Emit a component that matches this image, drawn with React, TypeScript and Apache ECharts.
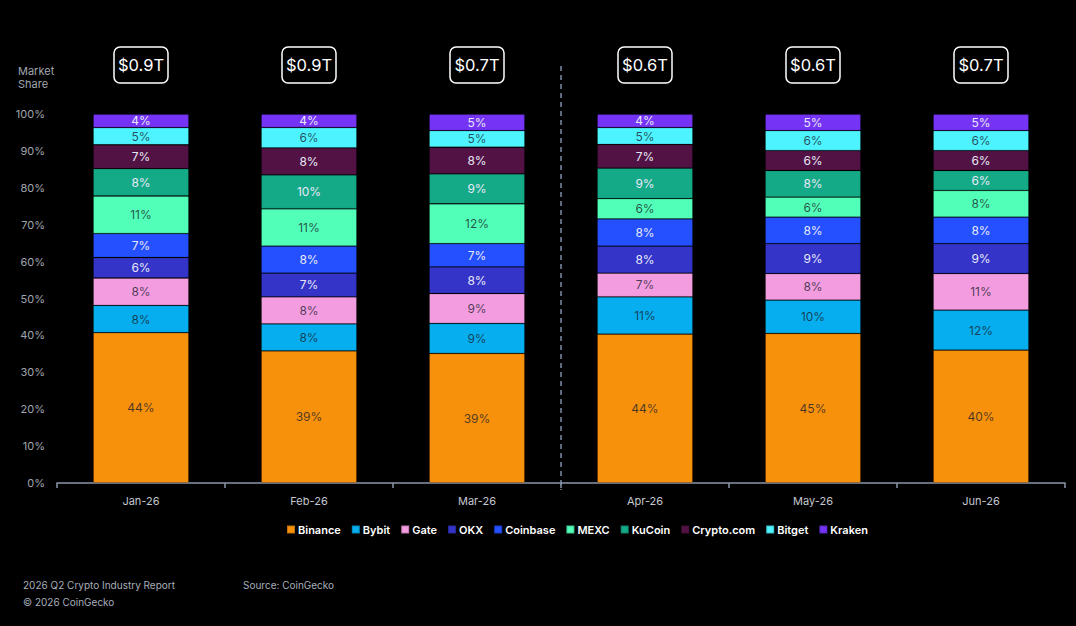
import React, { useEffect, useRef } from "react";
import * as echarts from "echarts";

const months = ["Jan-26", "Feb-26", "Mar-26", "Apr-26", "May-26", "Jun-26"];
const volumeTotals = ["$0.9T", "$0.9T", "$0.7T", "$0.6T", "$0.6T", "$0.7T"];
const exchanges = ["Binance", "Bybit", "Gate", "OKX", "Coinbase", "MEXC", "KuCoin", "Crypto.com", "Bitget", "Kraken"];

const binance = [44, 39, 39, 44, 45, 40];
const bybit = [8, 8, 9, 11, 10, 12];
const gate = [8, 8, 9, 7, 8, 11];
const okx = [6, 7, 8, 8, 9, 9];
const coinbase = [7, 8, 7, 8, 8, 8];
const mexc = [11, 11, 12, 6, 6, 8];
const kucoin = [8, 10, 9, 9, 8, 6];
const cryptoCom = [7, 8, 8, 7, 6, 6];
const bitget = [5, 6, 5, 5, 6, 6];
const kraken = [4, 4, 5, 4, 5, 5];

const yTickValues = [0, 10, 20, 30, 40, 50, 60, 70, 80, 90, 100];

const seriesValues = [binance, bybit, gate, okx, coinbase, mexc, kucoin, cryptoCom, bitget, kraken];
const colors = ["#F7900A", "#06AEEF", "#F49CE0", "#3434C8", "#2450FF", "#52FFB8", "#15AA87", "#521244", "#4DF4FF", "#7433F5"];
const darkText = [true, true, true, false, false, true, false, false, true, false];

const FONT = "Inter, 'Noto Sans', sans-serif";

export default function App() {
  const ref = useRef<HTMLDivElement>(null);

  useEffect(() => {
    document.body.style.margin = "0";
    document.body.style.background = "#000";
    if (!ref.current) return;
    const chart = echarts.init(ref.current, null, { renderer: "svg" });

    const sums = months.map((_, i) => seriesValues.reduce((s, arr) => s + arr[i], 0));

    const series = exchanges.map((name, si) => ({
      name,
      type: "bar",
      stack: "share",
      barWidth: "57%",
      data: seriesValues[si].map((v, i) => (v * 100) / sums[i]),
      itemStyle: {
        color: colors[si],
        borderColor: "rgba(0,0,0,0.22)",
        borderWidth: 0.8,
      },
      label: {
        show: true,
        position: "inside",
        fontFamily: FONT,
        fontSize: 12,
        color: darkText[si] ? "rgba(25,30,45,0.78)" : "#E8E8F8",
        formatter: (p: any) => seriesValues[si][p.dataIndex] + "%",
      },
      emphasis: { disabled: true },
    }));

    chart.setOption({
      animation: false,
      backgroundColor: "#000",
      grid: { left: 57, right: 11, top: 114, bottom: 143, containLabel: false },
      xAxis: {
        type: "category",
        data: months,
        axisLine: { lineStyle: { color: "#8C96A8", width: 1.5 } },
        axisTick: { show: true, length: 5, lineStyle: { color: "#8C96A8", width: 1.5 } },
        axisLabel: { color: "#C3C7CF", fontSize: 11, fontFamily: FONT, margin: 12 },
      },
      yAxis: {
        type: "value",
        min: yTickValues[0],
        max: yTickValues[yTickValues.length - 1],
        interval: yTickValues[1] - yTickValues[0],
        splitLine: { show: false },
        axisLine: { show: false },
        axisTick: { show: false },
        axisLabel: {
          color: "#A0A5AE",
          fontSize: 11,
          fontFamily: FONT,
          margin: 12,
          formatter: (v: number) => v + "%",
        },
      },
      legend: {
        data: exchanges,
        top: 519,
        left: 281,
        icon: "rect",
        itemWidth: 8,
        itemHeight: 8,
        itemGap: 10,
        textStyle: { color: "#FFFFFF", fontSize: 11, fontWeight: 600, fontFamily: FONT, padding: [0, 0, 0, -2] },
      },
      series,
    });

    const xs = months.map((m) => chart.convertToPixel({ xAxisIndex: 0 }, m) as number);
    const dividerX = (xs[2] + xs[3]) / 2;

    const boxes = months.map((_, i) => ({
      type: "group",
      x: xs[i],
      y: 65,
      children: [
        {
          type: "rect",
          shape: { x: -27, y: -18, width: 54, height: 36, r: 6 },
          style: { fill: "#000", stroke: "#FFFFFF", lineWidth: 1.5 },
        },
        {
          type: "text",
          style: {
            text: volumeTotals[i],
            x: 0,
            y: 0,
            align: "center",
            verticalAlign: "middle",
            fill: "#FFFFFF",
            fontSize: 16.5,
            fontFamily: FONT,
          },
        },
      ],
    }));

    chart.setOption({
      graphic: [
        ...boxes,
        {
          type: "line",
          shape: { x1: dividerX, y1: 66, x2: dividerX, y2: 490 },
          style: { stroke: "#7F8FA6", lineWidth: 1.5, lineDash: [5, 4] },
          z: 10,
        },
        {
          type: "text",
          left: 18,
          top: 64,
          style: {
            text: "Market\nShare",
            fill: "#A0A5AE",
            fontSize: 11,
            lineHeight: 13,
            fontFamily: FONT,
          },
        },
        {
          type: "text",
          left: 23,
          top: 580,
          style: { text: "2026 Q2 Crypto Industry Report", fill: "#A7AEBB", fontSize: 10, fontFamily: FONT },
        },
        {
          type: "text",
          left: 243,
          top: 580,
          style: { text: "Source: CoinGecko", fill: "#A7AEBB", fontSize: 10, fontFamily: FONT },
        },
        {
          type: "text",
          left: 23,
          top: 597,
          style: { text: "© 2026 CoinGecko", fill: "#A7AEBB", fontSize: 10, fontFamily: FONT },
        },
      ],
    });

    return () => chart.dispose();
  }, []);

  return <div ref={ref} style={{ width: 1076, height: 626, background: "#000" }} />;
}
